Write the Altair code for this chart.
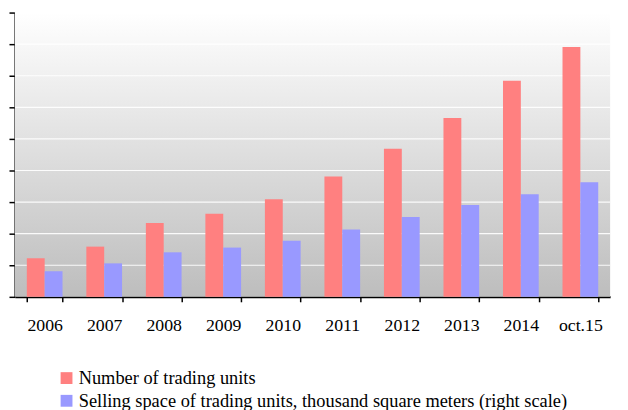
import altair as alt
import pandas as pd

categories = ["2006", "2007", "2008", "2009", "2010", "2011", "2012", "2013", "2014", "oct.15"]
units = [1.22, 1.59, 2.34, 2.63, 3.09, 3.81, 4.69, 5.66, 6.84, 7.91]
space = [0.81, 1.06, 1.41, 1.56, 1.78, 2.13, 2.53, 2.91, 3.25, 3.63]
series_names = [
    "Number of trading units",
    "Selling space of trading units, thousand square meters (right scale)",
]
colors = ["#FF8080", "#9999FF"]
grid_values = [1, 2, 3, 4, 5, 6, 7, 8, 9]
axis_ticks = [0, 1, 2, 3, 4, 5, 6, 7, 8, 9]

rows = []
for c, u, s in zip(categories, units, space):
    rows.append({"cat": c, "series": series_names[0], "value": u})
    rows.append({"cat": c, "series": series_names[1], "value": s})
df = pd.DataFrame(rows)

FONT = "Liberation Serif, Times New Roman, DejaVu Serif, serif"
x_scale = alt.Scale(domain=categories, paddingInner=0.4, paddingOuter=0.2)
y_scale = alt.Scale(domain=[0, 9], nice=False, zero=True)
y_axis = alt.Axis(title=None, values=axis_ticks, labels=False, tickSize=6,
                  tickColor="black", tickWidth=1.5, domainColor="black",
                  domainWidth=2, grid=False)

bg = alt.Chart(pd.DataFrame({"lo": [0], "hi": [9]})).mark_rect(
    color=alt.LinearGradient(
        gradient="linear",
        stops=[alt.GradientStop(color="#FFFFFF", offset=0),
               alt.GradientStop(color="#BDBDBD", offset=1)],
        x1=0, x2=0, y1=0, y2=1,
    )
).encode(
    x=alt.value(0), x2=alt.value(603),
    y=alt.Y("hi:Q", scale=y_scale, axis=y_axis), y2="lo:Q",
)

grid = alt.Chart(pd.DataFrame({"g": grid_values})).mark_rule(
    color="white", strokeWidth=1.2, opacity=0.9
).encode(y=alt.Y("g:Q", scale=y_scale, axis=y_axis))

bars = alt.Chart(df).mark_bar().encode(
    x=alt.X("cat:N", scale=x_scale, sort=categories,
            axis=alt.Axis(title=None, labelAngle=0, tickBand="extent", tickSize=5,
                          tickColor="black", tickWidth=1.5, domainColor="black",
                          domainWidth=2, labelFont=FONT, labelFontSize=18,
                          labelColor="black", labelBaseline="alphabetic",
                          labelPadding=29, grid=False)),
    xOffset=alt.XOffset("series:N", sort=series_names),
    y=alt.Y("value:Q", scale=y_scale, axis=y_axis),
    color=alt.Color("series:N", scale=alt.Scale(domain=series_names, range=colors),
                    legend=alt.Legend(title=None, orient="none", legendX=43, legendY=361,
                                      direction="vertical", symbolType="square",
                                      symbolSize=144, symbolStrokeWidth=0,
                                      labelFont=FONT, labelFontSize=18.6,
                                      labelColor="black", labelLimit=1000,
                                      labelOffset=3, rowPadding=4, padding=0)),
)

chart = alt.layer(bg, grid, bars).properties(
    width=603, height=288,
    autosize=alt.AutoSizeParams(type="none"),
    padding={"left": 7, "top": 2, "right": 10, "bottom": 112},
    background="white",
).configure_view(stroke=None)

chart.save("out.html", embed_options={"renderer": "svg", "actions": False})
